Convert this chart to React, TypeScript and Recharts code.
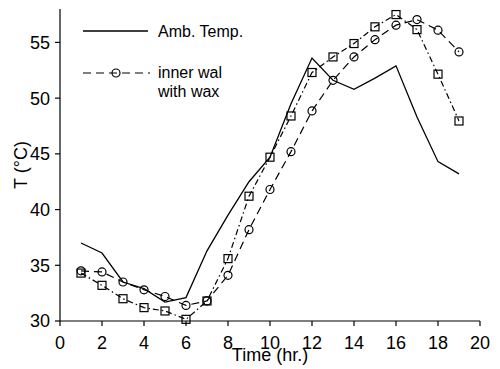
import { LineChart, Line, XAxis, YAxis, Legend } from 'recharts'

const hours = [1, 2, 3, 4, 5, 6, 7, 8, 9, 10, 11, 12, 13, 14, 15, 16, 17, 18, 19]
// ambient air temperature (solid line)
const ambTemp = [37.0, 36.1, 33.5, 32.9, 31.7, 32.1, 36.3, 39.5, 42.5, 44.7, 49.5, 53.6, 51.6, 50.8, 51.8, 52.9, 48.3, 44.3, 43.2]
// inner wall with wax (dashed, circles)
const innerWithWax = [34.5, 34.4, 33.5, 32.8, 32.2, 31.4, 31.8, 34.1, 38.2, 41.8, 45.2, 48.85, 51.6, 53.7, 55.25, 56.55, 57.05, 56.1, 54.15]
// inner wall without wax (dash-dot, squares)
const innerNoWax = [34.3, 33.2, 32.0, 31.2, 30.9, 30.15, 31.8, 35.6, 41.2, 44.7, 48.4, 52.3, 53.7, 54.9, 56.4, 57.5, 56.15, 52.15, 47.95]

const xTicks = [0, 2, 4, 6, 8, 10, 12, 14, 16, 18, 20]
const yTicks = [30, 35, 40, 45, 50, 55]

const data = hours.map((h, i) => ({
  hour: h,
  amb: ambTemp[i],
  wax: innerWithWax[i],
  noWax: innerNoWax[i],
}))

const INK = '#000'

const SquareDot = (props: any) => {
  const { cx, cy, index } = props
  if (cx == null || cy == null) return null
  return (
    <rect key={`sq-${index}`} x={cx - 4} y={cy - 4} width={8} height={8} fill="none" stroke={INK} strokeWidth={1.2} />
  )
}

const LegendBox = () => (
  <svg width={170} height={85} style={{ display: 'block' }}>
    <line x1={3} y1={11} x2={68} y2={11} stroke={INK} strokeWidth={1.3} />
    <text x={78} y={11} dy="0.35em" fontSize={16} fill={INK}>Amb. Temp.</text>
    <line x1={3} y1={53} x2={70} y2={53} stroke={INK} strokeWidth={1.2} strokeDasharray="8 5" />
    <circle cx={36} cy={53} r={4} fill="none" stroke={INK} strokeWidth={1.2} />
    <text x={78} y={52} dy="0.35em" fontSize={16} fill={INK}>inner wal</text>
    <text x={78} y={71} dy="0.35em" fontSize={16} fill={INK}>with wax</text>
  </svg>
)

export default function App() {
  return (
    <div
      style={{
        position: 'absolute',
        left: 0,
        top: 0,
        width: 500,
        height: 369,
        background: '#fff',
        fontFamily: '"Liberation Sans", Arial, sans-serif',
      }}
    >
      <LineChart width={500} height={369} data={data} margin={{ top: 9, right: 20, bottom: 3, left: 0 }}>
        <XAxis
          dataKey="hour"
          type="number"
          domain={[0, 20]}
          ticks={xTicks}
          interval={0}
          height={45}
          tickSize={5}
          tickMargin={10}
          axisLine={{ stroke: INK, strokeWidth: 1.2 }}
          tickLine={{ stroke: INK, strokeWidth: 1.2 }}
          tick={{ fill: INK, fontSize: 18 }}
          label={{ value: 'Time (hr.)', position: 'insideBottom', offset: 5, fill: INK, fontSize: 18 }}
        />
        <YAxis
          type="number"
          domain={[30, 58]}
          ticks={yTicks}
          interval={0}
          width={60}
          tickSize={5}
          tickMargin={5}
          axisLine={{ stroke: INK, strokeWidth: 1.2 }}
          tickLine={{ stroke: INK, strokeWidth: 1.2 }}
          tick={{ fill: INK, fontSize: 18 }}
          label={{
            value: 'T (°C)',
            angle: -90,
            position: 'insideLeft',
            offset: 21,
            textAnchor: 'middle',
            fill: INK,
            fontSize: 18,
          }}
        />
        <Legend
          layout="horizontal"
          align="center"
          verticalAlign="middle"
          wrapperStyle={{ left: 80, top: 20, width: 170, height: 85 }}
          content={() => <LegendBox />}
        />
        <Line
          dataKey="amb"
          stroke={INK}
          strokeWidth={1.3}
          dot={false}
          activeDot={false}
          isAnimationActive={false}
        />
        <Line
          dataKey="wax"
          stroke={INK}
          strokeWidth={1.2}
          strokeDasharray="8 5"
          dot={{ r: 4, fill: 'none', stroke: INK, strokeWidth: 1.2, strokeDasharray: 'none' }}
          activeDot={false}
          isAnimationActive={false}
        />
        <Line
          dataKey="noWax"
          stroke={INK}
          strokeWidth={1.2}
          strokeDasharray="6 3 1.5 3"
          dot={SquareDot}
          activeDot={false}
          isAnimationActive={false}
        />
      </LineChart>
    </div>
  )
}
